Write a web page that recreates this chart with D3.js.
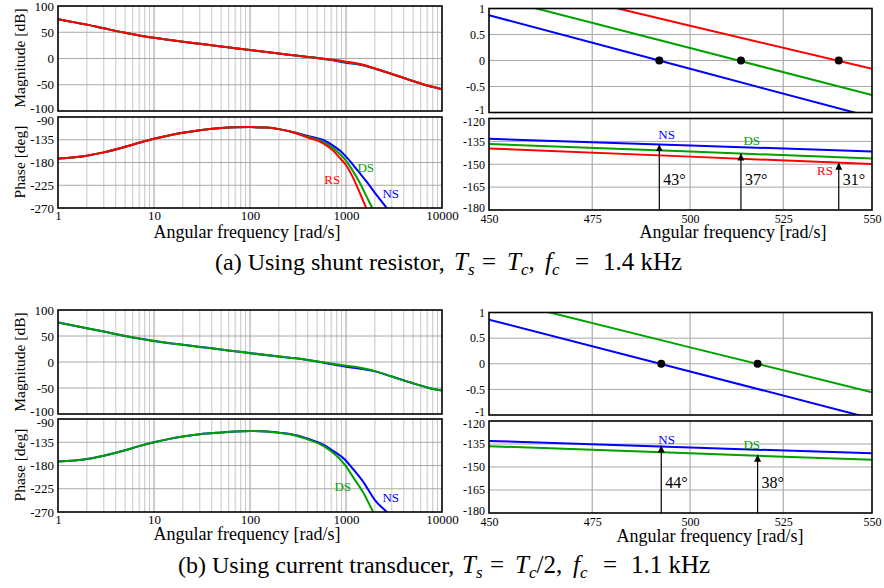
<!DOCTYPE html>
<html>
<head>
<meta charset="utf-8">
<script src="https://cdn.jsdelivr.net/npm/d3@7"></script>
<style>
  body { margin: 0; background: #fff; }
  text { font-family: "Liberation Serif", "DejaVu Serif", serif; }
</style>
</head>
<body>
<script>
// tick labels
const freqTicks = [1, 10, 100, 1000, 10000];
const magTicks = [100, 50, 0, -50, -100];
const phaseTicks = [-90, -135, -180, -225, -270];
const zoomFreqTicks = [450, 475, 500, 525, 550];
const zoomMagTicks = [1, 0.5, 0, -0.5, -1];
const zoomPhaseTicks = [-120, -135, -150, -165, -180];

// full bode magnitude (rad/s, dB)
const magFreq = [1, 2, 3, 5, 7, 10, 20, 30, 50, 70, 100, 200, 300, 500, 700, 1000, 1500, 2000, 3000, 5000, 7000, 10000];
const magA_NS = [75, 64.5, 57.5, 49, 44, 39.5, 32, 28, 23, 19.5, 16, 9.5, 5.5, 1, -3, -8, -13, -19.5, -29.5, -43, -51.5, -58.5];
const magA_DS = [75, 64.5, 57.5, 49, 44, 39.5, 32, 28, 23, 19.5, 16, 9.5, 5.5, 1, -2.5, -7, -12.5, -19, -29.5, -43, -51.5, -58.5];
const magA_RS = [75, 64.5, 57.5, 49, 44, 39.5, 32, 28, 23, 19.5, 16, 9.5, 5.5, 1, -2, -6, -12, -19, -29.5, -43, -51.5, -58.5];
const magB_NS = [76, 65, 58.5, 50, 45, 40.5, 33, 29, 24, 20.5, 17, 10.5, 7, 1, -4, -9, -13.5, -18, -28, -41, -49, -55];
const magB_DS = [76, 65, 58.5, 50, 45, 40.5, 33, 29, 24, 20.5, 17, 10.5, 7, 1, -3, -7, -12, -17.5, -28, -41, -49, -55];

// full bode phase (rad/s, deg)
const phaseFreqA = [1, 2, 3, 5, 7, 10, 15, 20, 30, 50, 70, 100, 150, 200, 300, 400, 580, 740, 870, 1000, 1190, 1400, 1640, 2000, 2650, 3000];
const phaseA_NS = [-172, -166.5, -160, -149, -141, -133, -125.5, -121, -116, -112, -110.5, -110, -111, -114, -121, -127.5, -135.5, -147, -157, -168.5, -185, -201.5, -218, -240, -270, -285];
const phaseA_DS = [-172, -166.5, -160, -149, -141, -133, -125.5, -121, -116, -112, -110.5, -110, -111, -114, -121.5, -129, -139, -152, -164, -176.5, -198, -221, -247.5, -280, -320, -340];
const phaseA_RS = [-172, -166.5, -160, -149, -141, -133, -125.5, -121, -116, -112, -110.5, -110, -111, -114, -122, -130.5, -142, -157, -172, -185, -211, -241, -272, -310, -350, -370];
const phaseFreqB = [1, 2, 3, 5, 7, 10, 15, 20, 30, 50, 70, 100, 150, 200, 260, 400, 580, 700, 1000, 1200, 1500, 2000, 2650, 3000];
const phaseB_NS = [-172.5, -167.5, -161, -150.5, -142.5, -135, -128, -124, -119.5, -116, -114, -113, -114, -116.5, -119, -128, -139.7, -149.4, -170.7, -188, -210.6, -247, -270, -282];
const phaseB_DS = [-172.5, -167.5, -161, -150.5, -142.5, -135, -128, -124, -119.5, -116, -114, -113, -114, -116.5, -119.5, -129.5, -142, -152.6, -181.6, -204, -231.3, -276, -310, -325];

// zoom around crossover
const zoomFreq = [450, 500, 550];
const zmagA_NS = [0.87, -0.16, -1.09];
const zmagA_DS = [1.235, 0.24, -0.665];
const zmagA_RS = [1.59, 0.67, -0.16];
const zphA_NS = [-133.3, -137.7, -141.6];
const zphA_DS = [-136.7, -141.7, -146.3];
const zphA_RS = [-139.6, -145.0, -149.9];
const zmagB_NS = [0.86, -0.15, -1.07];
const zmagB_DS = [1.295, 0.32, -0.555];
const zphB_NS = [-133.0, -137.3, -141.1];
const zphB_DS = [-136.4, -141.1, -145.3];

// crossover frequencies and phase margins
const crossA = [492, 513.5, 540.5];
const pmA = [43, 37, 31];
const crossB = [492.5, 518];
const pmB = [44, 38];

const colors = { NS: "#0000ff", DS: "#00a000", RS: "#ff0000" };
const serif = '"Liberation Serif", "DejaVu Serif", serif';

const svg = d3.select("body").append("svg")
    .attr("width", 884)
    .attr("height", 588);

const defs = svg.append("defs");
defs.append("marker")
    .attr("id", "arrow")
    .attr("viewBox", "0 0 8 8")
    .attr("refX", 8).attr("refY", 4)
    .attr("markerWidth", 7).attr("markerHeight", 7)
    .attr("markerUnits", "userSpaceOnUse")
    .attr("orient", "auto")
    .append("path").attr("d", "M0,0L8,4L0,8Z").attr("fill", "#000");

let clipCount = 0;

// one framed panel with grid and tick labels
function panel(p) {
    const x = (p.log ? d3.scaleLog() : d3.scaleLinear()).domain(p.xDomain).range([p.left, p.right]);
    const y = d3.scaleLinear().domain(p.yDomain).range([p.bottom, p.top]);
    const g = svg.append("g");

    const vGrid = p.full ? x.ticks().filter(d => d > p.xDomain[0] && d < p.xDomain[1]) : p.xTicks.slice(1, -1);
    g.selectAll(null).data(vGrid).join("line")
        .attr("x1", d => x(d)).attr("x2", d => x(d))
        .attr("y1", p.top).attr("y2", p.bottom)
        .attr("stroke", d => (!p.full || p.xTicks.includes(d)) ? "#9a9a9a" : "#c6c6c6")
        .attr("stroke-width", 1);

    g.selectAll(null).data(p.yTicks.slice(1, -1)).join("line")
        .attr("x1", p.left).attr("x2", p.right)
        .attr("y1", d => y(d)).attr("y2", d => y(d))
        .attr("stroke", "#a8a8a8")
        .attr("stroke-width", 1);

    const ya = g.append("g")
        .attr("transform", `translate(${p.left},0)`)
        .call(d3.axisLeft(y).tickValues(p.yTicks).tickSize(0).tickPadding(4).tickFormat(d => String(d)))
        .call(a => a.select(".domain").remove())
        .attr("font-size", p.fs);
    ya.selectAll("text")
        .style("font-family", serif)
        .attr("dy", d => d === p.yDomain[0] ? p.fs * 0.32 - p.lowShift
                     : d === p.yDomain[1] ? p.fs * 0.32 + p.highShift : p.fs * 0.32);

    if (p.showX) {
        g.append("g")
            .attr("transform", `translate(0,${p.bottom})`)
            .call(d3.axisBottom(x).tickValues(p.xTicks).tickSize(0).tickPadding(p.xPad).tickFormat(d => String(d)))
            .call(a => a.select(".domain").remove())
            .attr("font-size", p.fs)
            .selectAll("text").style("font-family", serif);
    }

    const id = "clip" + (++clipCount);
    defs.append("clipPath").attr("id", id)
        .append("rect")
        .attr("x", p.left).attr("y", p.top)
        .attr("width", p.right - p.left).attr("height", p.bottom - p.top);

    const curves = g.append("g").attr("clip-path", `url(#${id})`);
    return { g, x, y, curves, p };
}

function frame(P) {
    P.g.append("rect")
        .attr("x", P.p.left).attr("y", P.p.top)
        .attr("width", P.p.right - P.p.left).attr("height", P.p.bottom - P.p.top)
        .attr("fill", "none").attr("stroke", "#000").attr("stroke-width", 1.6);
}

function curve(P, xs, ys, color, smooth) {
    const line = d3.line()
        .x(d => P.x(d[0]))
        .y(d => P.y(d[1]))
        .curve(smooth ? d3.curveMonotoneX : d3.curveLinear);
    P.curves.append("path")
        .datum(d3.zip(xs, ys))
        .attr("d", line)
        .attr("fill", "none")
        .attr("stroke", color)
        .attr("stroke-width", 2);
}

function label(P, w, v, txt, color) {
    P.g.append("text")
        .attr("x", P.x(w)).attr("y", P.y(v))
        .attr("text-anchor", "middle")
        .attr("dominant-baseline", "central")
        .attr("font-size", 13)
        .attr("fill", color)
        .text(txt);
}

function yTitle(x, yc, txt) {
    svg.append("text")
        .attr("transform", `translate(${x},${yc}) rotate(-90)`)
        .attr("text-anchor", "middle")
        .attr("font-size", 15.5)
        .text(txt);
}

function xTitle(xc, y, txt) {
    svg.append("text")
        .attr("x", xc).attr("y", y)
        .attr("text-anchor", "middle")
        .attr("font-size", 18)
        .text(txt);
}

// caption: plain text, then math pieces placed at offsets from the first math glyph
function caption(x, mathX, y, text, parts) {
    const t = svg.append("text").attr("x", x).attr("y", y).attr("font-size", 24);
    t.append("tspan").text(text);
    let shifted = false;
    parts.forEach(s => {
        const sp = t.append("tspan").text(s.t).attr("font-size", s.sub ? 17 : 25);
        if (s.at !== undefined) sp.attr("x", mathX + s.at);
        if (s.i) sp.attr("font-style", "italic");
        if (s.sub) { sp.attr("dy", shifted ? 0 : 5); shifted = true; }
        else if (shifted) { sp.attr("dy", -5); shifted = false; }
    });
}

function phaseMargins(P, cross, pm, magP) {
    cross.forEach((w, i) => {
        P.g.append("line")
            .attr("x1", P.x(w)).attr("x2", P.x(w))
            .attr("y1", P.y(-180)).attr("y2", P.y(-180 + pm[i]))
            .attr("stroke", "#000").attr("stroke-width", 1.2)
            .attr("marker-end", "url(#arrow)");
        P.g.append("text")
            .attr("x", P.x(w) + 4).attr("y", P.y(-160))
            .attr("dominant-baseline", "central")
            .attr("font-size", 16)
            .text(pm[i] + "°");
        magP.g.append("circle")
            .attr("cx", magP.x(w)).attr("cy", magP.y(0))
            .attr("r", 4).attr("fill", "#000");
    });
}

const fullMag = { log: true, full: true, xDomain: [1, 10000], yDomain: [-100, 100], xTicks: freqTicks, yTicks: magTicks, fs: 13, lowShift: 3, highShift: 0 };
const fullPhase = { log: true, full: true, xDomain: [1, 10000], yDomain: [-270, -90], xTicks: freqTicks, yTicks: phaseTicks, fs: 13, showX: true, xPad: 3, lowShift: 0, highShift: 3 };
const zMag = { log: true, xDomain: [450, 550], yDomain: [-1, 1], xTicks: zoomFreqTicks, yTicks: zoomMagTicks, fs: 12, lowShift: 3, highShift: 0 };
const zPhase = { log: true, xDomain: [450, 550], yDomain: [-180, -120], xTicks: zoomFreqTicks, yTicks: zoomPhaseTicks, fs: 12, showX: true, xPad: 4, lowShift: 2, highShift: 3 };

// ---------- (a) shunt resistor ----------
const magA = panel({ ...fullMag, left: 58, right: 442, top: 6, bottom: 111 });
curve(magA, magFreq, magA_NS, colors.NS, true);
curve(magA, magFreq, magA_DS, colors.DS, true);
curve(magA, magFreq, magA_RS, colors.RS, true);
frame(magA);

const phA = panel({ ...fullPhase, left: 58, right: 442, top: 117, bottom: 208 });
curve(phA, phaseFreqA, phaseA_NS, colors.NS, true);
curve(phA, phaseFreqA, phaseA_DS, colors.DS, true);
curve(phA, phaseFreqA, phaseA_RS, colors.RS, true);
frame(phA);
label(phA, 1604, -189.5, "DS", colors.DS);
label(phA, 720, -214.6, "RS", colors.RS);
label(phA, 2924, -242.3, "NS", colors.NS);

const zmA = panel({ ...zMag, left: 489, right: 872, top: 8.5, bottom: 112.5 });
curve(zmA, zoomFreq, zmagA_NS, colors.NS);
curve(zmA, zoomFreq, zmagA_DS, colors.DS);
curve(zmA, zoomFreq, zmagA_RS, colors.RS);
frame(zmA);

const zpA = panel({ ...zPhase, left: 489, right: 872, top: 118.5, bottom: 210 });
curve(zpA, zoomFreq, zphA_NS, colors.NS);
curve(zpA, zoomFreq, zphA_DS, colors.DS);
curve(zpA, zoomFreq, zphA_RS, colors.RS);
phaseMargins(zpA, crossA, pmA, zmA);
frame(zpA);
label(zpA, 493.9, -130.8, "NS", colors.NS);
label(zpA, 516.4, -134.6, "DS", colors.DS);
label(zpA, 536.6, -153.8, "RS", colors.RS);

yTitle(25, 58, "Magnitude [dB]");
yTitle(25, 162, "Phase [deg]");
xTitle(247, 237.5, "Angular frequency [rad/s]");
xTitle(733, 237.5, "Angular frequency [rad/s]");

caption(215, 454, 270, "(a) Using shunt resistor,", [
    { t: "T", i: 1, at: 0 }, { t: "s", i: 1, sub: 1 }, { t: "=", at: 28 },
    { t: "T", i: 1, at: 53 }, { t: "c", i: 1, sub: 1 }, { t: "," },
    { t: "f", i: 1, at: 91 }, { t: "c", i: 1, sub: 1 }, { t: "=", at: 121 },
    { t: "1.4 kHz", at: 149 }
]);

// ---------- (b) current transducer ----------
const magB = panel({ ...fullMag, left: 58, right: 442, top: 310, bottom: 414 });
curve(magB, magFreq, magB_NS, colors.NS, true);
curve(magB, magFreq, magB_DS, colors.DS, true);
frame(magB);

const phB = panel({ ...fullPhase, left: 58, right: 442, top: 419, bottom: 512 });
curve(phB, phaseFreqB, phaseB_NS, colors.NS, true);
curve(phB, phaseFreqB, phaseB_DS, colors.DS, true);
frame(phB);
label(phB, 924, -221.6, "DS", colors.DS);
label(phB, 2924, -241, "NS", colors.NS);

const zmB = panel({ ...zMag, left: 489, right: 872, top: 312.5, bottom: 415 });
curve(zmB, zoomFreq, zmagB_NS, colors.NS);
curve(zmB, zoomFreq, zmagB_DS, colors.DS);
frame(zmB);

const zpB = panel({ ...zPhase, left: 489, right: 872, top: 421, bottom: 513 });
curve(zpB, zoomFreq, zphB_NS, colors.NS);
curve(zpB, zoomFreq, zphB_DS, colors.DS);
phaseMargins(zpB, crossB, pmB, zmB);
frame(zpB);
label(zpB, 493.9, -131.9, "NS", colors.NS);
label(zpB, 516.4, -135.2, "DS", colors.DS);

yTitle(25, 362, "Magnitude [dB]");
yTitle(25, 465, "Phase [deg]");
xTitle(247, 539.5, "Angular frequency [rad/s]");
xTitle(710, 541.5, "Angular frequency [rad/s]");

caption(178, 462, 573, "(b) Using current transducer,", [
    { t: "T", i: 1, at: 0 }, { t: "s", i: 1, sub: 1 }, { t: "=", at: 28 },
    { t: "T", i: 1, at: 53 }, { t: "c", i: 1, sub: 1 }, { t: "/2," },
    { t: "f", i: 1, at: 111 }, { t: "c", i: 1, sub: 1 }, { t: "=", at: 141 },
    { t: "1.1 kHz", at: 169 }
]);
</script>
</body>
</html>
